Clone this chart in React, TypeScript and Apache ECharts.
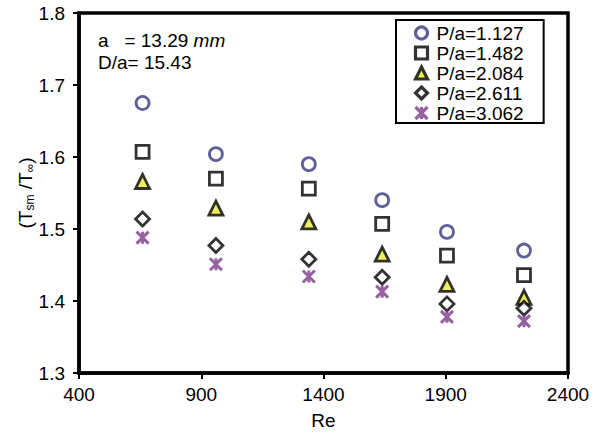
import React, { useEffect, useRef } from "react";
import * as echarts from "echarts";

const reValues = [660, 960, 1340, 1640, 1905, 2220];
const seriesNames = ["P/a=1.127", "P/a=1.482", "P/a=2.084", "P/a=2.611", "P/a=3.062"];
const s1127 = [1.675, 1.604, 1.590, 1.540, 1.496, 1.470];
const s1482 = [1.607, 1.570, 1.556, 1.507, 1.463, 1.436];
const s2084 = [1.566, 1.529, 1.510, 1.465, 1.423, 1.405];
const s2611 = [1.514, 1.477, 1.458, 1.433, 1.396, 1.390];
const s3062 = [1.488, 1.451, 1.434, 1.413, 1.378, 1.372];
const xTicks = { min: 400, max: 2400, interval: 500 };
const yTicks = { min: 1.3, max: 1.8, interval: 0.1 };

const FONT = "Liberation Sans, Arial, sans-serif";
const FS = 19;
const STAR = "path://M0,0L10,10M10,0L0,10M5,0L5,10";

export default function App() {
  const ref = useRef<HTMLDivElement>(null);
  useEffect(() => {
    if (!ref.current) return;
    const chart = echarts.init(ref.current, null, { renderer: "svg" });
    const mk = (vals: number[]) => reValues.map((x, i) => [x, vals[i]]);
    const styles = [
      { symbol: "circle", size: 13, item: { color: "#ffffff", borderColor: "#353a7a", borderWidth: 2.8 } },
      { symbol: "rect", size: 13, item: { color: "#ffffff", borderColor: "#000000", borderWidth: 2.8 } },
      { symbol: "triangle", size: 14, item: { color: "#e8e83c", borderColor: "#000000", borderWidth: 2.8 } },
      { symbol: "diamond", size: 14, item: { color: "#ffffff", borderColor: "#000000", borderWidth: 2.8 } },
      { symbol: STAR, size: 12, item: { color: "none", borderColor: "#7d3a8a", borderWidth: 3 } },
    ];
    const data = [s1127, s1482, s2084, s2611, s3062];
    chart.setOption({
      animation: false,
      backgroundColor: "#ffffff",
      textStyle: { fontFamily: FONT },
      grid: { left: 79, right: 35, top: 13, bottom: 62, show: true, borderColor: "#000", borderWidth: 3.5 },
      legend: {
        orient: "vertical",
        left: 396,
        top: 20,
        padding: [3, 20, 0, 17],
        itemGap: 0,
        itemWidth: 12,
        itemHeight: 12,
        itemStyle: { borderWidth: 3.2 },
        borderColor: "#000",
        borderWidth: 2,
        backgroundColor: "#fff",
        textStyle: { fontSize: FS, color: "#000", fontFamily: FONT, lineHeight: 20, padding: [0, 0, 0, 4] },
        data: seriesNames,
      },
      xAxis: {
        type: "value",
        ...xTicks,
        name: "Re",
        nameLocation: "middle",
        nameGap: 38,
        nameMoveOverlap: false,
        nameTextStyle: { fontSize: FS, color: "#000", fontFamily: FONT },
        axisLine: { lineStyle: { color: "#000", width: 3.5 } },
        axisTick: { length: 6, lineStyle: { width: 2, color: "#000" } },
        axisLabel: { fontSize: FS, color: "#000", margin: 12, fontFamily: FONT, formatter: (v: number) => String(v) },
        splitLine: { show: false },
      },
      yAxis: {
        type: "value",
        ...yTicks,
        name: "(T{sub|sm} /T{sub|∞})",
        nameLocation: "middle",
        nameGap: 43,
        nameMoveOverlap: false,
        nameRotate: 90,
        nameTextStyle: {
          fontSize: FS,
          color: "#000",
          fontFamily: FONT,
          rich: { sub: { fontSize: 12, color: "#000", fontFamily: FONT, padding: [9, 0, 0, 0] } },
        },
        axisLine: { lineStyle: { color: "#000", width: 3.5 } },
        axisTick: { length: 6, lineStyle: { width: 2, color: "#000" } },
        axisLabel: { fontSize: FS, color: "#000", margin: 14, fontFamily: FONT, formatter: (v: number) => v.toFixed(1) },
        splitLine: { show: false },
      },
      graphic: [
        {
          type: "text",
          left: 98,
          top: 31,
          style: {
            text: "{n|a   = 13.29 }{i|mm}\n{n|D/a= 15.43}",
            rich: {
              n: { fontSize: FS, fill: "#000", fontFamily: FONT, lineHeight: 22 },
              i: { fontSize: FS, fill: "#000", fontFamily: FONT, fontStyle: "italic", lineHeight: 22 },
            },
          },
        },
      ],
      series: data.map((d, i) => ({
        type: "scatter",
        name: seriesNames[i],
        data: mk(d),
        symbol: styles[i].symbol,
        symbolSize: styles[i].size,
        itemStyle: styles[i].item,
      })),
    });
    return () => chart.dispose();
  }, []);
  return <div ref={ref} style={{ position: "absolute", left: 0, top: 0, width: 603, height: 435 }} />;
}
